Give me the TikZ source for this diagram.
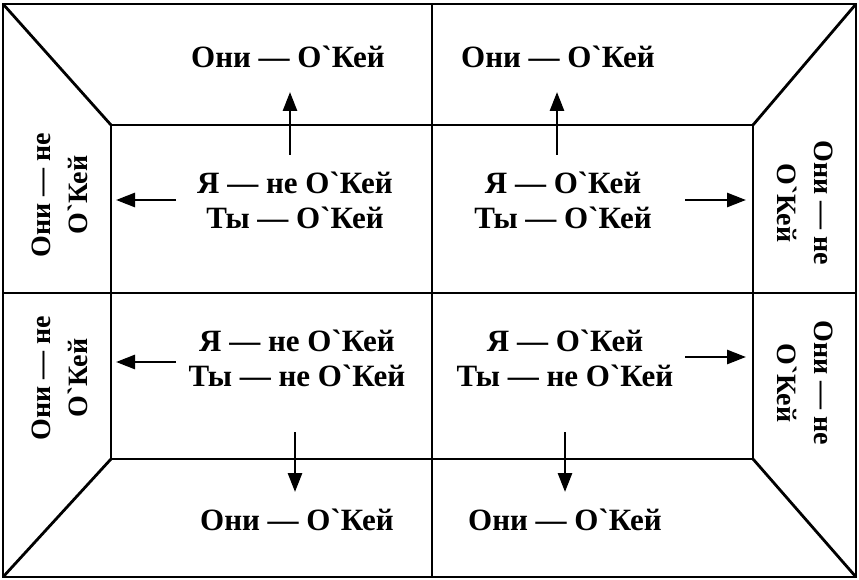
\documentclass[tikz,border=0pt]{standalone}
\usepackage{fontspec}
\setmainfont{Liberation Serif}
\newfontfamily\rufont{Liberation Serif}[Ligatures=TeXOff]
\usetikzlibrary{arrows.meta,positioning}

\begin{document}
\begin{tikzpicture}[x=1pt,y=-1pt,>={Triangle[length=19pt,width=14pt]},
 font=\rufont\bfseries\fontsize{31}{35}\selectfont,
 n/.style={align=center,inner sep=0pt},
 side/.style={n,font=\rufont\bfseries\fontsize{28}{37}\selectfont},
 frame/.style={line width=2.8pt},
 line/.style={->,line width=2.8pt}]
\useasboundingbox (0,0) rectangle (859,580);
% outer frame and inner window
\coordinate (o1) at (3,4);\coordinate (o2) at (856,4);
\coordinate (o3) at (856,577);\coordinate (o4) at (3,577);
\coordinate (i1) at (111,125);\coordinate (i2) at (753,125);
\coordinate (i3) at (753,459);\coordinate (i4) at (111,459);
\draw[frame] (o1) rectangle (o3);
\draw[frame] (i1) rectangle (i3);
\draw[frame] (o1)--(i1);\draw[frame] (o2)--(i2);
\draw[frame] (o3)--(i3);\draw[frame] (o4)--(i4);
\draw[frame] (432,4)--(432,577);
\draw[frame] (3,293)--(856,293);
% quadrants
\node[n] (tlc) at (295,200) {Я — не О`Кей\\Ты — О`Кей};
\node[n] (trc) at (563,200) {Я — О`Кей\\Ты — О`Кей};
\node[n] (blc) at (297,358) {Я — не О`Кей\\Ты — не О`Кей};
\node[n] (brc) at (565,358) {Я — О`Кей\\Ты — не О`Кей};
% outer labels
\node[n] (tlo) at (288,57) {Они — О`Кей};
\node[n] (tro) at (558,57) {Они — О`Кей};
\node[n] (blo) at (297,520) {Они — О`Кей};
\node[n] (bro) at (565,520) {Они — О`Кей};
\node[side,rotate=90] (lt) at (60,195) {Они — не\\О`Кей};
\node[side,rotate=90] (lb) at (60,378) {Они — не\\О`Кей};
\node[side,rotate=-90] (rt) at (805,203) {Они — не\\О`Кей};
\node[side,rotate=-90] (rb) at (805,383) {Они — не\\О`Кей};
% arrows
\coordinate (a1) at (290,155);\coordinate (a2) at (290,92);
\coordinate (a3) at (176,200);\coordinate (a4) at (116,200);
\coordinate (a5) at (557,155);\coordinate (a6) at (557,92);
\coordinate (a7) at (685,200);\coordinate (a8) at (746,200);
\coordinate (a9) at (176,362);\coordinate (a10) at (116,362);
\coordinate (a11) at (295,432);\coordinate (a12) at (295,492);
\coordinate (a13) at (685,357);\coordinate (a14) at (746,357);
\coordinate (a15) at (565,432);\coordinate (a16) at (565,492);
\draw[line] (a1)--(a2);\draw[line] (a3)--(a4);
\draw[line] (a5)--(a6);\draw[line] (a7)--(a8);
\draw[line] (a9)--(a10);\draw[line] (a11)--(a12);
\draw[line] (a13)--(a14);\draw[line] (a15)--(a16);
\end{tikzpicture}
\end{document}
